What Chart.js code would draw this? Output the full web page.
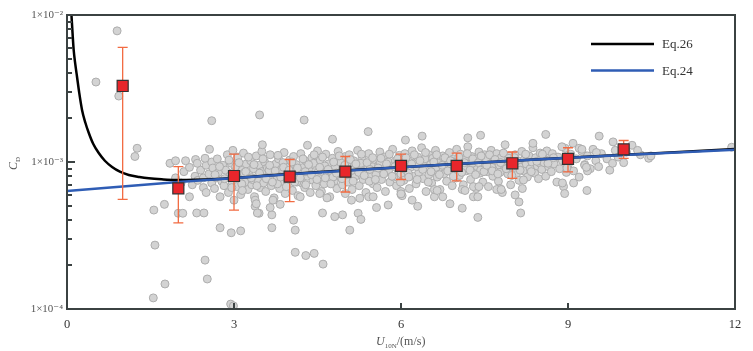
<!DOCTYPE html>
<html>
<head>
<meta charset="utf-8">
<script src="https://cdn.jsdelivr.net/npm/chart.js@4.4.0/dist/chart.umd.min.js"></script>
<style>
html,body{margin:0;padding:0;background:#fff;}
#wrap{width:753px;height:351px;position:relative;}
</style>
</head>
<body>
<div id="wrap"><canvas id="c"></canvas></div>
<script>
const SERIF='"Liberation Serif","DejaVu Serif",serif';
const UNIT=1e-3; // all C_D values below are in units of 10^-3

// observations [U10N, CD]
const obsCore=[
[1.85,0.98],[1.95,0.78],[2.05,0.72],[2.1,0.86],[2.2,0.92],[2.25,0.70],[2.3,0.80],[2.35,0.75],[2.4,0.88],[2.45,0.67],[2.5,0.95],[2.5,0.62],[2.45,0.78],[2.55,0.83],[2.6,0.72],[2.6,1.0],
[2.62,0.91],[2.65,0.66],[2.68,0.78],[2.7,1.05],[2.72,0.85],[2.75,0.58],[2.78,0.74],[2.8,0.95],[2.82,0.69],[2.85,0.88],[2.88,1.12],[2.9,0.62],[2.92,0.80],[2.95,0.98],[2.97,0.72],[3.0,0.86],[3.0,0.55],[2.98,1.2],
[3.03,0.93],[3.05,0.68],[3.07,1.08],[3.1,0.77],[3.12,0.60],[3.15,0.88],[3.17,1.15],[3.2,0.73],[3.22,0.97],[3.25,0.65],[3.27,0.83],[3.3,1.02],[3.32,0.70],[3.35,0.90],[3.37,0.58],[3.4,1.10],[3.42,0.79],[3.45,0.95],[3.47,0.67],[3.5,0.86],[3.5,1.18],[3.33,0.76],[3.18,0.84],[3.44,0.74],
[3.53,0.72],[3.55,1.00],[3.57,0.63],[3.6,0.91],[3.62,0.80],[3.65,1.12],[3.67,0.69],[3.7,0.85],[3.72,0.57],[3.75,0.97],[3.77,0.76],[3.8,1.05],[3.82,0.66],[3.85,0.89],[3.87,0.74],[3.9,1.16],[3.92,0.61],[3.95,0.94],[3.97,0.82],[4.0,0.70],[4.0,1.03],[3.63,0.88],[3.78,0.71],[3.88,0.99],
[4.03,0.87],[4.05,0.64],[4.07,1.09],[4.1,0.78],[4.12,0.96],[4.15,0.59],[4.17,0.83],[4.2,1.14],[4.22,0.72],[4.25,0.92],[4.27,0.67],[4.3,1.01],[4.32,0.80],[4.35,0.88],[4.37,0.62],[4.4,1.07],[4.42,0.75],[4.45,0.95],[4.47,0.69],[4.5,0.84],[4.5,1.19],[4.13,0.73],[4.28,0.86],[4.43,0.98],
[4.53,0.77],[4.55,1.03],[4.57,0.63],[4.6,0.90],[4.62,0.71],[4.65,1.13],[4.67,0.82],[4.7,0.97],[4.72,0.58],[4.75,0.86],[4.77,1.06],[4.8,0.74],[4.82,0.93],[4.85,0.66],[4.87,1.18],[4.9,0.81],[4.92,0.99],[4.95,0.70],[4.97,0.89],[5.0,1.09],[5.0,0.61],[4.63,0.94],[4.78,0.79],[4.93,0.85],
[5.03,0.95],[5.05,0.73],[5.07,1.12],[5.1,0.84],[5.12,0.65],[5.15,1.02],[5.17,0.79],[5.2,0.91],[5.22,1.20],[5.25,0.69],[5.27,0.87],[5.3,1.06],[5.32,0.76],[5.35,0.97],[5.37,0.62],[5.4,0.89],[5.42,1.14],[5.45,0.80],[5.47,1.00],[5.5,0.71],[5.5,0.93],[5.13,0.88],[5.28,0.98],[5.43,0.74],
[5.53,1.04],[5.55,0.82],[5.57,0.67],[5.6,0.95],[5.62,1.17],[5.65,0.76],[5.67,0.90],[5.7,1.08],[5.72,0.63],[5.75,0.86],[5.77,1.00],[5.8,0.73],[5.82,0.93],[5.85,1.22],[5.87,0.79],[5.9,1.02],[5.92,0.69],[5.95,0.88],[5.97,1.11],[6.0,0.83],[6.0,0.60],[5.63,0.99],[5.78,0.88],[5.93,0.96],
[6.03,0.97],[6.05,0.75],[6.07,1.14],[6.1,0.88],[6.12,1.03],[6.15,0.66],[6.17,0.92],[6.2,1.19],[6.22,0.80],[6.25,0.99],[6.27,0.71],[6.3,1.08],[6.32,0.85],[6.35,0.94],[6.37,1.25],[6.4,0.77],[6.42,1.01],[6.45,0.63],[6.47,0.90],[6.5,1.12],[6.5,0.82],[6.13,0.84],[6.28,0.93],[6.43,1.05],
[6.53,0.96],[6.55,0.72],[6.57,1.06],[6.6,0.87],[6.62,1.20],[6.65,0.79],[6.67,0.98],[6.7,0.65],[6.72,0.91],[6.75,1.10],[6.77,0.83],[6.8,1.02],[6.82,0.74],[6.85,0.94],[6.87,1.16],[6.9,0.86],[6.92,0.69],[6.95,1.05],[6.97,0.90],[7.0,1.22],[7.0,0.78],[6.63,0.92],[6.78,0.97],[6.93,1.00],
[7.03,0.99],[7.05,0.81],[7.07,1.13],[7.1,0.92],[7.12,0.70],[7.15,1.04],[7.17,0.87],[7.2,1.27],[7.22,0.95],[7.25,0.76],[7.27,1.09],[7.3,0.89],[7.32,1.00],[7.35,0.66],[7.37,0.93],[7.4,1.17],[7.42,0.84],[7.45,1.03],[7.47,0.73],[7.5,0.97],[7.5,1.12],[7.13,0.90],[7.28,0.98],[7.43,0.88],
[7.53,1.05],[7.55,0.86],[7.57,0.68],[7.6,0.97],[7.62,1.20],[7.65,0.80],[7.67,1.01],[7.7,0.91],[7.72,1.14],[7.75,0.74],[7.77,0.95],[7.8,1.07],[7.82,0.62],[7.85,0.88],[7.87,1.31],[7.9,0.98],[7.92,0.83],[7.95,1.10],[7.97,0.70],[8.0,0.93],[8.0,1.03],[7.63,0.92],[7.78,0.85],[7.93,1.00],
[8.03,0.96],[8.05,1.12],[8.07,0.82],[8.1,1.02],[8.12,0.75],[8.15,0.92],[8.17,1.18],[8.2,0.87],[8.22,1.05],[8.25,0.97],[8.27,0.79],[8.3,1.10],[8.32,0.90],[8.35,1.00],[8.37,1.25],[8.4,0.84],[8.42,1.07],[8.45,0.94],[8.47,0.77],[8.5,1.15],[8.5,0.98],
[8.53,0.89],[8.55,1.09],[8.57,0.99],[8.6,0.80],[8.62,1.19],[8.65,0.93],[8.67,1.04],[8.7,0.86],[8.72,1.14],[8.75,0.97],[8.8,0.73],[8.82,1.08],[8.85,0.90],[8.9,1.02],[8.92,0.68],[8.95,1.24],[8.97,0.85],[9.0,0.95],
[9.05,1.13],[9.1,0.87],[9.15,1.05],[9.2,0.79],[9.25,1.18],[9.3,0.96],[9.35,1.10],[9.4,0.90],[9.45,1.22],[9.5,1.02],[9.55,0.93],[9.6,1.14],[9.7,1.05],[9.75,0.88],[9.85,1.20],[9.9,1.08],[10.0,0.99],[10.05,1.17],[10.3,1.12],[10.45,1.06]
];
const obsCore2=[
[2.66,0.82],[2.74,0.93],[2.83,0.77],[2.91,1.03],[2.96,0.67],[3.04,0.81],[3.09,0.99],[3.14,0.71],[3.21,0.86],[3.26,1.08],[3.31,0.78],[3.36,0.96],[3.41,0.69],[3.46,0.84],[3.52,1.05],[3.58,0.77],
[3.64,0.95],[3.69,0.73],[3.74,0.87],[3.79,1.11],[3.84,0.79],[3.89,0.92],[3.94,0.68],[3.99,0.88],[4.04,1.00],[4.09,0.73],[4.14,0.91],[4.19,0.78],[4.24,1.05],[4.29,0.70],[4.34,0.96],[4.39,0.82],
[4.44,1.12],[4.49,0.76],[4.54,0.92],[4.59,1.08],[4.64,0.78],[4.69,0.89],[4.74,0.71],[4.79,1.00],[4.84,0.84],[4.89,1.10],[4.94,0.77],[4.99,0.95],[5.04,0.83],[5.09,1.04],[5.14,0.74],[5.19,0.97],
[5.24,0.85],[5.29,1.13],[5.34,0.81],[5.39,0.99],[5.44,0.89],[5.49,1.07],[5.54,0.76],[5.59,0.91],[5.64,1.06],[5.69,0.83],[5.74,0.97],[5.79,1.13],[5.84,0.80],[5.89,0.93],[5.94,1.05],[5.99,0.73],
[6.04,0.90],[6.09,1.07],[6.14,0.79],[6.19,0.97],[6.24,1.12],[6.29,0.76],[6.34,1.02],[6.39,0.89],[6.44,1.16],[6.49,0.73],[6.54,0.86],[6.59,1.00],[6.64,1.12],[6.69,0.82],[6.74,0.95],[6.79,1.07],
[6.84,0.87],[6.89,1.02],[6.94,0.80],[6.99,0.96],[7.04,1.08],[7.09,0.85],[7.14,0.99],[7.19,1.14],[7.24,0.88],[7.29,1.05],[7.34,0.82],[7.39,0.99],[7.44,1.10],[7.49,0.86],[7.54,0.95],[7.59,1.12],
[7.64,0.87],[7.69,1.04],[7.74,0.83],[7.79,0.99],[7.84,1.15],[7.89,0.90],[7.94,1.06],[7.99,0.81],[8.04,1.07],[8.14,0.88],[8.24,1.13],[8.34,0.86],[8.44,1.01],[8.54,1.13],[8.64,0.98],[8.74,1.07]
];
const obsHigh=[
[0.90,7.8],[0.52,3.5],[0.93,2.81],[1.26,1.24],[1.22,1.09],[1.95,1.02],[2.13,1.02],[2.31,1.04],[2.34,0.98],[2.48,1.06],[2.56,1.22],[2.60,1.91],
[3.46,2.09],[4.26,1.93],[5.41,1.61],[4.77,1.43],[4.32,1.30],[3.51,1.31],[6.08,1.41],[6.38,1.50],[7.2,1.46],[7.43,1.52],[8.6,1.54],[8.37,1.34],
[8.89,1.27],[9.09,1.34],[9.2,1.24],[9.25,1.22],[9.56,1.50],[9.81,1.37],[9.51,1.16],[10.15,1.30],[10.25,1.20],[10.49,1.10],[11.94,1.26]
];
const obsLow=[
[1.56,0.471],[1.75,0.515],[2.0,0.448],[2.08,0.448],[2.2,0.58],[2.33,0.45],[2.46,0.45],[1.58,0.272],[1.76,0.148],[1.55,0.119],[2.48,0.215],[2.52,0.16],
[2.94,0.108],[2.99,0.105],[2.75,0.357],[2.95,0.33],[3.12,0.34],[3.68,0.357],[4.07,0.402],[4.10,0.344],[4.59,0.45],[4.81,0.425],[4.95,0.437],[5.08,0.344],
[5.23,0.448],[5.28,0.407],[4.10,0.243],[4.29,0.231],[4.44,0.239],[4.60,0.202],[3.68,0.437],[3.45,0.448],[3.38,0.50],[3.38,0.55],[3.65,0.49],[3.83,0.515],
[4.19,0.58],[4.54,0.61],[4.67,0.57],[5.11,0.55],[5.26,0.567],[5.42,0.58],[5.50,0.58],[5.56,0.49],[5.77,0.51],[6.0,0.63],[6.02,0.59],[3.15,0.64],[3.7,0.55],
[3.4,0.52],[3.42,0.45],[6.88,0.52],[7.10,0.485],[7.38,0.42],[7.3,0.58],[7.38,0.58],[6.6,0.58],[6.75,0.58],[7.78,0.66],[6.2,0.55],[6.3,0.50],
[8.05,0.597],[8.12,0.535],[8.15,0.45],[8.2,0.755],[8.18,0.66],[7.72,0.65],[7.8,0.65],[6.0,0.607],[6.6,0.65],[6.65,0.64],[7.3,0.68],[7.4,0.68],[7.1,0.65],[7.15,0.64],
[9.8,0.98],[9.3,0.95],[9.35,0.87],[9.33,0.92],[8.9,0.72],[9.1,0.72],[8.94,0.61],[9.34,0.64],[8.98,0.91]
];

// bin averages with error bars
const binU=[1,2,3,4,5,6,7,8,9,10];
const binCD=[3.29,0.662,0.803,0.795,0.86,0.94,0.94,0.98,1.05,1.22];
const binLow=[0.557,0.385,0.471,0.537,0.625,0.76,0.743,0.774,0.857,1.06];
const binHigh=[6.03,0.93,1.13,1.04,1.09,1.13,1.15,1.17,1.25,1.40];

// Eq.26 and Eq.24 curves
const eq26U=[0.08,0.10,0.12,0.15,0.18,0.22,0.27,0.33,0.39,0.47,0.57,0.68,0.81,0.95,1.11,1.3,1.47,1.7,1.94,2.3,2.7,3.2,4,5,6,7,8,9,10,11,12];
const eq26CD=[10,7.5,5.78,4.6,3.8,2.95,2.26,1.85,1.58,1.33,1.15,1.02,0.925,0.86,0.816,0.79,0.774,0.762,0.755,0.757,0.767,0.788,0.83,0.875,0.922,0.97,1.02,1.07,1.12,1.17,1.225];
const eq24U=[0,2,4,6,8,10,12];
const eq24CD=[0.635,0.73,0.826,0.922,1.018,1.114,1.21];

const xTicks=[0,3,6,9,12];
const yTicks=[1e-4,1e-3,1e-2];
const yTickLabels=['1×10⁻⁴','1×10⁻³','1×10⁻²'];
const yMinor=[2e-4,3e-4,4e-4,5e-4,6e-4,7e-4,8e-4,9e-4,2e-3,3e-3,4e-3,5e-3,6e-3,7e-3,8e-3,9e-3];

const toXY=(us,cds)=>us.map((u,i)=>({x:u,y:cds[i]*UNIT}));
const pairXY=arr=>arr.map(p=>({x:p[0],y:p[1]*UNIT}));

const AXIS='#3b4242';

const decor={
  id:'decor',
  beforeDatasetDraw(chart,args){
    if(args.index!==3) return;
    const {ctx}=chart, xs=chart.scales.x, ys=chart.scales.y;
    ctx.save();
    ctx.strokeStyle='#f26b42';ctx.lineWidth=1.3;
    binU.forEach((u,i)=>{
      const px=xs.getPixelForValue(u);
      const t=ys.getPixelForValue(binHigh[i]*UNIT), b=ys.getPixelForValue(binLow[i]*UNIT);
      ctx.beginPath();
      ctx.moveTo(px,t);ctx.lineTo(px,b);
      ctx.moveTo(px-5,t);ctx.lineTo(px+5,t);
      ctx.moveTo(px-5,b);ctx.lineTo(px+5,b);
      ctx.stroke();
    });
    ctx.restore();
  },
  afterDraw(chart){
    const {ctx,chartArea:a}=chart, xs=chart.scales.x, ys=chart.scales.y;
    ctx.save();
    // frame
    ctx.strokeStyle=AXIS;ctx.lineWidth=2;
    ctx.strokeRect(a.left,a.top,a.right-a.left,a.bottom-a.top);
    // inward ticks
    ctx.lineWidth=2;
    ctx.beginPath();
    yMinor.forEach(v=>{const py=Math.round(ys.getPixelForValue(v));ctx.moveTo(a.left,py);ctx.lineTo(a.left+5,py);});
    const py3=Math.round(ys.getPixelForValue(1e-3));ctx.moveTo(a.left,py3);ctx.lineTo(a.left+8,py3);
    xTicks.slice(1,-1).forEach(v=>{const px=Math.round(xs.getPixelForValue(v));ctx.moveTo(px,a.bottom);ctx.lineTo(px,a.bottom-6);});
    ctx.stroke();
    // legend
    const items=[chart.data.datasets[1],chart.data.datasets[2]];
    ctx.font='13px '+SERIF;ctx.textBaseline='middle';ctx.textAlign='left';
    items.forEach((d,i)=>{
      const y=44+i*26.5;
      ctx.strokeStyle=d.borderColor;ctx.lineWidth=2.5;
      ctx.beginPath();ctx.moveTo(591,y);ctx.lineTo(654,y);ctx.stroke();
      ctx.fillStyle='#333';ctx.fillText(d.label,662,y+1);
    });
    // axis titles
    ctx.fillStyle='#555';
    ctx.save();
    ctx.translate(17,170);ctx.rotate(-Math.PI/2);
    ctx.font='italic 12px '+SERIF;ctx.textBaseline='alphabetic';
    ctx.fillText('C',0,0);
    const cw=ctx.measureText('C').width;
    ctx.font='7px '+SERIF;ctx.fillText('D',cw,3);
    ctx.restore();
    ctx.textBaseline='alphabetic';
    ctx.font='italic 12px '+SERIF;
    let x=376;
    ctx.fillText('U',x,345);x+=ctx.measureText('U').width;
    ctx.font='7px '+SERIF;ctx.fillText('10N',x,348);x+=ctx.measureText('10N').width;
    ctx.font='12px '+SERIF;ctx.fillText('/(m/s)',x,345);
    ctx.restore();
  }
};

new Chart(document.getElementById('c'),{
  type:'scatter',
  data:{datasets:[
    {label:'Observations',data:pairXY(obsCore.concat(obsCore2,obsHigh,obsLow)),order:3,
     pointRadius:4,pointBackgroundColor:'#d3d3d3',pointBorderColor:'#adadad',pointBorderWidth:1},
    {label:'Eq.26',data:toXY(eq26U,eq26CD),order:2,showLine:true,pointRadius:0,
     borderColor:'#000000',borderWidth:2.5,cubicInterpolationMode:'monotone'},
    {label:'Eq.24',data:toXY(eq24U,eq24CD),order:1,showLine:true,pointRadius:0,
     borderColor:'#2f5db5',borderWidth:2.5,cubicInterpolationMode:'monotone'},
    {label:'Bin mean',data:toXY(binU,binCD),order:0,pointStyle:'rect',pointRadius:7.8,
     pointBackgroundColor:'#e8262b',pointBorderColor:'#333',pointBorderWidth:1.2}
  ]},
  options:{
    responsive:true,maintainAspectRatio:false,animation:false,
    layout:{padding:{left:0,right:18,top:15,bottom:0}},
    plugins:{legend:{display:false},tooltip:{enabled:false}},
    scales:{
      x:{type:'linear',min:0,max:12,
        afterBuildTicks:s=>{s.ticks=xTicks.map(v=>({value:v}));},
        afterFit:s=>{s.height=42;},
        grid:{display:false,drawTicks:false},border:{display:false},
        ticks:{padding:8,color:'#333',font:{family:SERIF,size:12.5},callback:v=>String(v)}},
      y:{type:'logarithmic',min:1e-4,max:1e-2,
        afterBuildTicks:s=>{s.ticks=yTicks.map(v=>({value:v}));},
        afterFit:s=>{s.width=67;},
        grid:{display:false,drawTicks:false},border:{display:false},
        ticks:{padding:4,color:'#555',font:{family:SERIF,size:11},
          callback:v=>{const i=yTicks.findIndex(t=>Math.abs(t-v)/t<1e-6);return i>=0?yTickLabels[i]:'';}}}
    }
  },
  plugins:[decor]
});
</script>
</body>
</html>
